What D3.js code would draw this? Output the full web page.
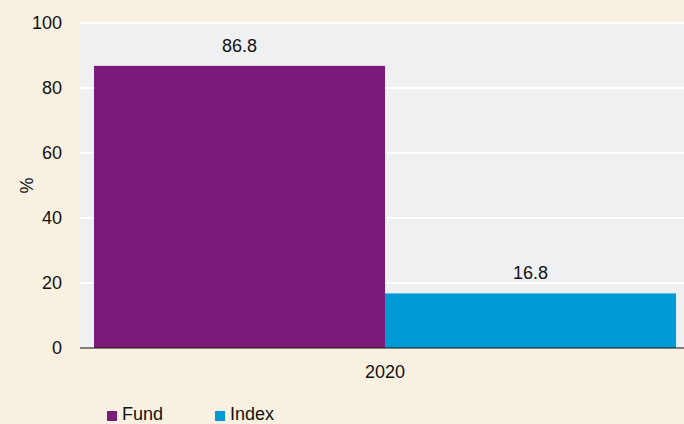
<!DOCTYPE html>
<html>
<head>
<meta charset="utf-8">
<script src="https://cdn.jsdelivr.net/npm/d3@7"></script>
<style>
  body { margin: 0; background: #f8f1e1; }
  text { font-family: "Liberation Sans", Arial, sans-serif; fill: #111; }
</style>
</head>
<body>
<script>
var years = ["2020"];
var seriesNames = ["Fund", "Index"];
var seriesValues = [86.8, 16.8];
var seriesColors = ["#7b1c7a", "#009bd7"];
var yTicks = [0, 20, 40, 60, 80, 100];

var width = 684, height = 424;
var plotLeft = 80, plotRight = 690, plotTop = 23, plotBottom = 348;

var svg = d3.select("body").append("svg")
  .attr("width", width).attr("height", height);

svg.append("rect").attr("width", width).attr("height", height).attr("fill", "#f8f1e1");

var x0 = d3.scaleBand().domain(years).range([plotLeft, plotRight]).paddingInner(0).paddingOuter(0.024);
var x1 = d3.scaleBand().domain(seriesNames).range([0, x0.bandwidth()]);
var y = d3.scaleLinear().domain([0, 100]).range([plotBottom, plotTop]);

// plot background
svg.append("rect")
  .attr("x", plotLeft).attr("y", plotTop)
  .attr("width", width - plotLeft).attr("height", plotBottom - plotTop)
  .attr("fill", "#eff0f2");

// gridlines
svg.selectAll(".grid").data(yTicks.filter(function(d){ return d > 0; }))
  .enter().append("line")
  .attr("x1", plotLeft).attr("x2", width)
  .attr("y1", function(d){ return y(d); }).attr("y2", function(d){ return y(d); })
  .attr("stroke", "#fff").attr("stroke-width", 2);

// y tick labels
svg.selectAll(".ytick").data(yTicks).enter().append("text")
  .attr("x", 62).attr("y", function(d){ return y(d); })
  .attr("dy", "0.35em").attr("text-anchor", "end")
  .attr("font-size", 18).text(function(d){ return d; });

svg.append("text")
  .attr("transform", "translate(33," + ((plotTop + plotBottom) / 2) + ") rotate(-90)")
  .attr("text-anchor", "middle").attr("font-size", 18).text("%");

// bars
var g = svg.append("g").attr("transform", "translate(" + x0("2020") + ",0)");
g.selectAll("rect").data(seriesNames).enter().append("rect")
  .attr("x", function(d){ return x1(d); })
  .attr("width", x1.bandwidth())
  .attr("y", function(d, i){ return y(seriesValues[i]); })
  .attr("height", function(d, i){ return plotBottom - y(seriesValues[i]); })
  .attr("fill", function(d, i){ return seriesColors[i]; });

g.selectAll(".val").data(seriesNames).enter().append("text")
  .attr("x", function(d){ return x1(d) + x1.bandwidth() / 2; })
  .attr("y", function(d, i){ return y(seriesValues[i]) - 14; })
  .attr("text-anchor", "middle").attr("font-size", 18)
  .text(function(d, i){ return seriesValues[i].toFixed(1); });

// baseline
svg.append("line")
  .attr("x1", plotLeft).attr("x2", width)
  .attr("y1", plotBottom).attr("y2", plotBottom)
  .attr("stroke", "#111").attr("stroke-width", 1.2);

// x label
svg.selectAll(".xlab").data(years).enter().append("text")
  .attr("x", function(d){ return x0(d) + x0.bandwidth() / 2; })
  .attr("y", 378).attr("text-anchor", "middle").attr("font-size", 18)
  .text(function(d){ return d; });

// legend
var legendX = [107, 215];
var lg = svg.selectAll(".leg").data(seriesNames).enter().append("g")
  .attr("transform", function(d, i){ return "translate(" + legendX[i] + ",411)"; });
lg.append("rect").attr("width", 10).attr("height", 10)
  .attr("fill", function(d, i){ return seriesColors[i]; });
lg.append("text").attr("x", 15).attr("y", 9)
  .attr("font-size", 18).text(function(d){ return d; });
</script>
</body>
</html>
